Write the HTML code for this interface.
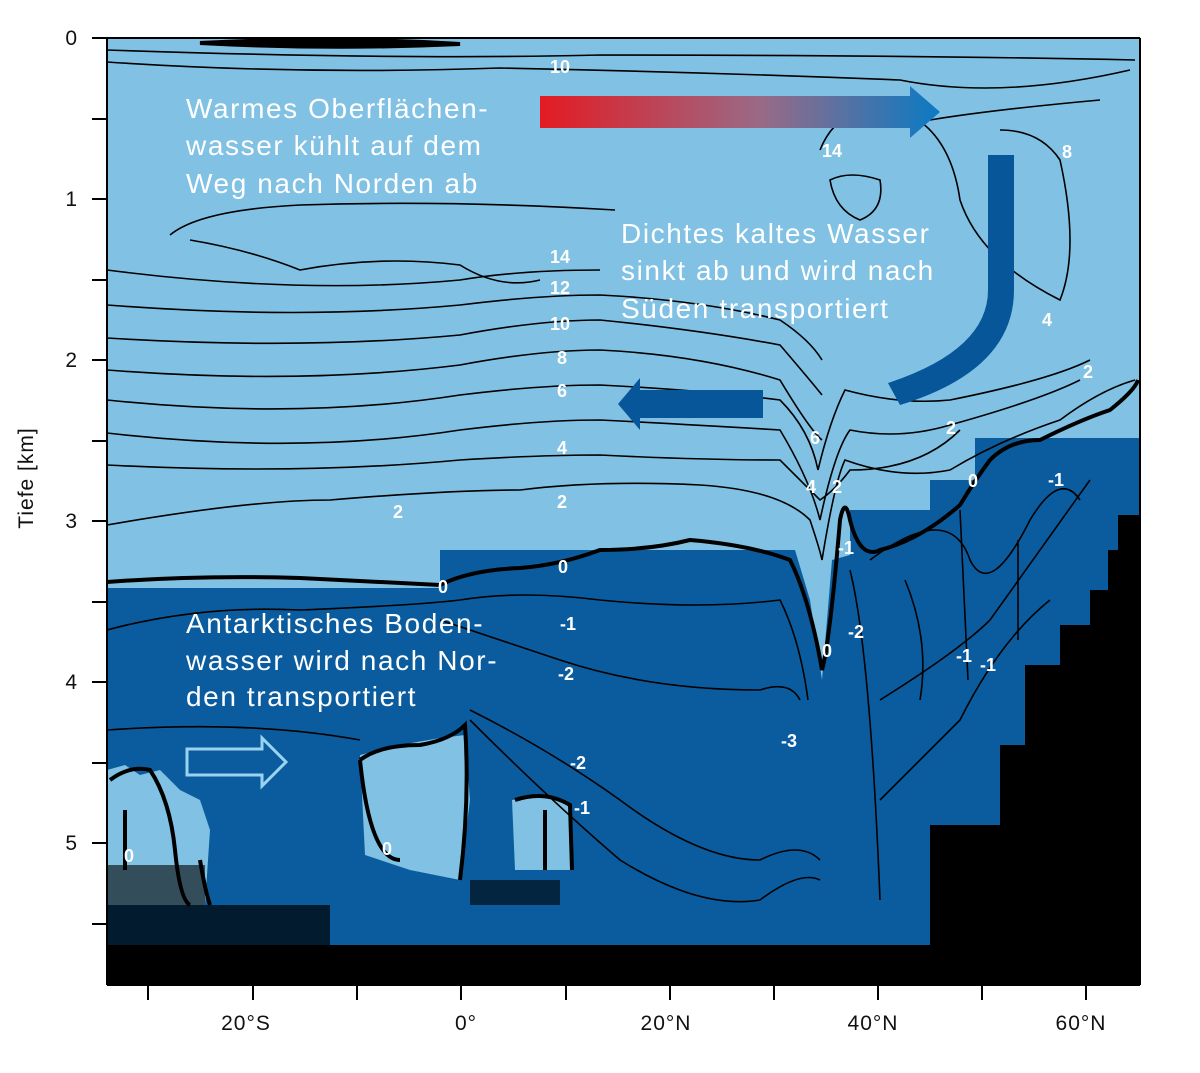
<!DOCTYPE html>
<html><head><meta charset="utf-8"><style>
body{margin:0;background:#fff;}
svg{display:block;font-family:"Liberation Sans",sans-serif;}
.w{fill:#fff;font-size:28px;letter-spacing:1.6px;}
.l{fill:#fff;font-size:18px;font-weight:bold;}
.c{fill:none;stroke:#000;stroke-width:1.6;}
.t{fill:none;stroke:#000;stroke-width:4;}
.ax{font-size:21px;fill:#111;letter-spacing:1px;}
</style></head><body>
<svg width="1200" height="1073" viewBox="0 0 1200 1073">
<defs>
<linearGradient id="g" x1="0" x2="1"><stop offset="0" stop-color="#e31b23"/><stop offset="0.55" stop-color="#9a6a86"/><stop offset="1" stop-color="#0a7ac4"/></linearGradient>
</defs>
<rect x="107" y="38" width="1033" height="947" fill="#80c1e4"/>
<path d="M107 588 L440 588 L440 550 L795 550 L810 600 L822 680 L832 560 L850 555 L850 510 L930 510 L930 480 L975 480 L975 438 L1140 438 L1140 985 L107 985 Z" fill="#0a5c9e"/>
<path d="M107 770 L125 765 L140 775 L160 770 L180 790 L200 800 L210 830 L205 905 L107 905 Z" fill="#80c1e4"/>
<path d="M360 755 L400 745 L440 738 L465 735 L470 800 L460 880 L410 870 L365 855 Z" fill="#80c1e4"/>
<path d="M512 800 L545 795 L570 805 L572 870 L515 870 Z" fill="#80c1e4"/>
<rect x="107" y="945" width="1033" height="40" fill="#000"/>
<path d="M107 905 L330 905 L330 945 L107 945 Z" fill="#000" opacity="0.7"/>
<path d="M107 865 L205 865 L205 905 L107 905Z" fill="#000" opacity="0.6"/>
<path d="M470 880 L560 880 L560 905 L470 905Z" fill="#000" opacity="0.6"/>
<path d="M930 985 L930 825 L1000 825 L1000 745 L1025 745 L1025 665 L1060 665 L1060 625 L1090 625 L1090 590 L1108 590 L1108 550 L1118 550 L1118 515 L1140 515 L1140 985Z" fill="#000"/>
<path d="M200 43 Q330 36 460 44 Q330 50 200 43Z" fill="#000" stroke="#000" stroke-width="4"/>
<g class="c">
<path d="M107 50 Q400 60 600 55 Q900 55 1135 60"/>
<path d="M107 62 Q300 75 500 68 Q700 72 900 80 Q1000 100 1130 70"/>
<path d="M170 235 Q200 210 300 205 Q450 200 615 210"/>
<path d="M190 240 Q250 250 300 270 Q380 255 460 265 Q500 290 540 280"/>
<path d="M107 270 Q300 295 460 280 Q520 270 600 270"/>
<path d="M107 305 Q300 320 460 305 Q540 295 600 295 Q700 300 780 320 Q810 340 822 360"/>
<path d="M107 338 Q300 350 460 335 Q540 320 600 320 Q700 330 780 345 Q810 380 822 395"/>
<path d="M107 370 Q300 385 460 365 Q540 350 600 350 Q700 355 780 380 Q810 430 822 440"/>
<path d="M107 400 Q300 420 460 395 Q540 385 600 385 Q700 390 780 400 Q810 430 818 470 Q830 420 845 390 Q900 405 950 400 Q1050 380 1090 360"/>
<path d="M107 433 Q300 455 460 430 Q540 420 600 420 Q700 425 780 430 Q810 480 820 520 Q835 450 850 430 Q900 440 950 425 Q1040 400 1080 380"/>
<path d="M107 465 Q300 475 460 460 Q540 455 600 455 Q700 460 780 460 Q810 490 820 500 Q835 490 850 470 Q920 470 960 430"/>
<path d="M107 525 Q250 500 330 500 Q450 490 520 490 Q600 480 700 485 Q780 490 810 520 Q820 550 822 560 Q835 480 845 460 Q900 480 950 470 Q1000 440 1060 420 Q1100 390 1135 380"/>
<path d="M820 150 Q840 100 900 110 Q950 130 960 200 Q980 260 1060 300 Q1080 250 1060 160 Q1040 130 1000 130"/>
<path d="M830 180 Q850 170 880 180 Q885 210 860 220 Q835 210 830 180Z"/>
<path d="M930 120 Q990 110 1100 100"/>
</g>
<g class="c">
<path d="M107 630 Q200 605 300 610 Q420 605 460 600 Q520 590 600 600 Q700 610 780 600 Q800 640 808 700"/>
<path d="M440 620 Q500 640 560 660 Q650 690 760 690 Q790 680 800 700"/>
<path d="M107 730 Q250 720 360 740 M470 710 Q550 750 620 800 Q700 860 760 860 Q800 840 820 860"/>
<path d="M470 720 Q550 800 620 860 Q700 910 760 900 Q800 870 820 880"/>
<path d="M850 570 Q870 650 880 900"/>
<path d="M870 560 Q950 500 970 560 Q990 600 1030 520 Q1060 470 1080 500"/>
<path d="M880 700 Q960 650 990 620 Q1040 550 1090 480"/>
<path d="M880 800 Q920 760 960 720 Q1000 640 1050 600"/>
<path d="M960 510 L968 680 M1018 540 L1018 640 M905 580 Q930 640 920 700"/>
</g>
<g class="t">
<path d="M107 582 Q200 575 300 578 Q380 582 440 585 Q470 570 520 568 Q560 565 600 550 Q650 550 690 540 Q750 545 790 560 Q810 600 822 670 Q830 640 840 520 Q845 495 850 520 Q860 560 880 550 Q920 540 960 505 Q975 480 990 460 Q1010 440 1040 440 Q1080 420 1110 410 Q1135 390 1138 380"/>
<path d="M110 780 Q130 765 150 770 Q170 800 175 850 Q180 900 190 905 M200 860 Q205 890 210 905"/>
<path d="M360 760 Q380 745 420 745 Q450 740 465 725 Q470 800 460 880 M400 860 Q370 860 360 760"/>
<path d="M515 800 Q545 790 570 805 L572 870"/>
<path d="M125 810 L125 870 M545 810 L545 870"/>
</g>
<g class="l">
<text x="550" y="73">10</text><text x="822" y="157">14</text><text x="1062" y="158">8</text>
<text x="550" y="263">14</text><text x="550" y="294">12</text><text x="550" y="330">10</text>
<text x="557" y="364">8</text><text x="557" y="397">6</text><text x="557" y="454">4</text>
<text x="557" y="508">2</text><text x="393" y="518">2</text><text x="810" y="444">6</text>
<text x="806" y="493">4</text><text x="832" y="493">2</text><text x="946" y="434">2</text>
<text x="1042" y="326">4</text><text x="1083" y="378">2</text><text x="968" y="487">0</text>
<text x="1048" y="486">-1</text><text x="838" y="554">-1</text><text x="558" y="573">0</text>
<text x="438" y="593">0</text><text x="560" y="630">-1</text><text x="558" y="680">-2</text>
<text x="848" y="638">-2</text><text x="822" y="657">0</text><text x="956" y="662">-1</text>
<text x="980" y="671">-1</text><text x="781" y="747">-3</text><text x="570" y="769">-2</text>
<text x="574" y="814">-1</text><text x="124" y="862">0</text><text x="382" y="855">0</text>
</g>
<path d="M540 96 L910 96 L910 86 L940 112 L910 138 L910 128 L540 128Z" fill="url(#g)"/>
<path d="M988 155 L1014 155 L1014 290 Q1014 370 900 405 L888 383 Q988 350 988 290Z" fill="#07569a"/>
<path d="M763 390 L640 390 L640 378 L618 404 L640 430 L640 418 L763 418Z" fill="#07569a"/>
<path d="M187 749 L262 749 L262 738 L286 762 L262 786 L262 775 L187 775Z" fill="none" stroke="#9ad3f0" stroke-width="3"/>
<g class="w">
<text x="186" y="118">Warmes Oberflächen-</text>
<text x="186" y="155">wasser kühlt auf dem</text>
<text x="186" y="193">Weg nach Norden ab</text>
<text x="621" y="243">Dichtes kaltes Wasser</text>
<text x="621" y="280">sinkt ab und wird nach</text>
<text x="621" y="318">Süden transportiert</text>
<text x="186" y="633">Antarktisches Boden-</text>
<text x="186" y="670">wasser wird nach Nor-</text>
<text x="186" y="706">den transportiert</text>
</g>
<g stroke="#000" stroke-width="2">
<line x1="107" y1="38" x2="107" y2="985"/><line x1="107" y1="985" x2="1140" y2="985"/>
<line x1="1140" y1="38" x2="1140" y2="985"/><line x1="107" y1="38" x2="1140" y2="38"/>
<line x1="92" y1="38" x2="107" y2="38"/><line x1="92" y1="119" x2="107" y2="119"/>
<line x1="92" y1="199" x2="107" y2="199"/><line x1="92" y1="280" x2="107" y2="280"/>
<line x1="92" y1="360" x2="107" y2="360"/><line x1="92" y1="441" x2="107" y2="441"/>
<line x1="92" y1="521" x2="107" y2="521"/><line x1="92" y1="602" x2="107" y2="602"/>
<line x1="92" y1="682" x2="107" y2="682"/><line x1="92" y1="763" x2="107" y2="763"/>
<line x1="92" y1="843" x2="107" y2="843"/><line x1="92" y1="924" x2="107" y2="924"/>
<line x1="148" y1="985" x2="148" y2="1000"/><line x1="253" y1="985" x2="253" y2="1000"/>
<line x1="357" y1="985" x2="357" y2="1000"/><line x1="461" y1="985" x2="461" y2="1000"/>
<line x1="566" y1="985" x2="566" y2="1000"/><line x1="670" y1="985" x2="670" y2="1000"/>
<line x1="774" y1="985" x2="774" y2="1000"/><line x1="878" y1="985" x2="878" y2="1000"/>
<line x1="982" y1="985" x2="982" y2="1000"/><line x1="1086" y1="985" x2="1086" y2="1000"/>
</g>
<g class="ax" text-anchor="end">
<text x="78" y="45">0</text><text x="78" y="206">1</text><text x="78" y="367">2</text>
<text x="78" y="528">3</text><text x="78" y="689">4</text><text x="78" y="850">5</text>
</g>
<g class="ax" text-anchor="middle">
<text x="246" y="1030">20°S</text><text x="466" y="1030">0°</text>
<text x="666" y="1030">20°N</text><text x="873" y="1030">40°N</text><text x="1081" y="1030">60°N</text>
</g>
<text class="ax" transform="translate(33 478) rotate(-90)" text-anchor="middle" font-size="25">Tiefe [km]</text>
</svg>
</body></html>
